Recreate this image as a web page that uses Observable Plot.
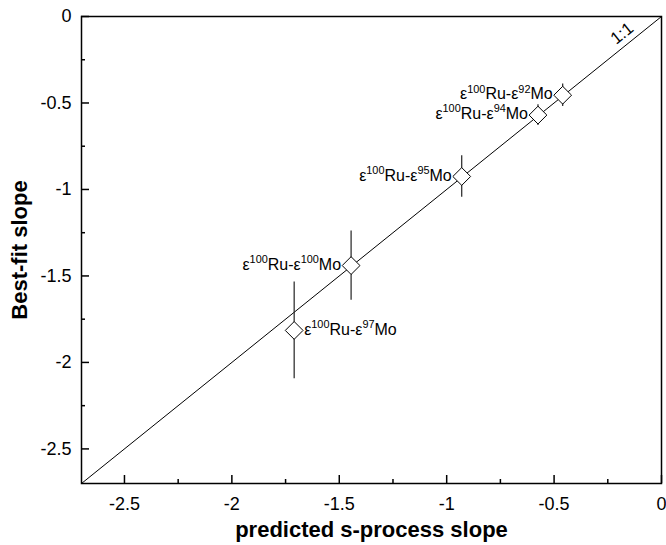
<!DOCTYPE html>
<html>
<head>
<meta charset="utf-8">
<script src="https://cdn.jsdelivr.net/npm/d3@7"></script>
<script src="https://cdn.jsdelivr.net/npm/@observablehq/plot@0.6"></script>
<style>
  html, body { margin: 0; padding: 0; background: white; }
</style>
</head>
<body>
<div id="chart"></div>
<script>
// ---- data ----
const isotope = ["92", "94", "95", "100", "97"];
const predictedSlope = [-0.46, -0.575, -0.93, -1.445, -1.71];
const bestFitSlope = [-0.455, -0.57, -0.925, -1.44, -1.815];
const bestFitError = [0.065, 0.06, 0.12, 0.2, 0.28];
const labelSide = ["left", "left", "left", "left", "right"];

const xMajorTicks = [-2.5, -2, -1.5, -1, -0.5, 0];
const xMinorTicks = [-2.25, -1.75, -1.25, -0.75, -0.25];
const yMajorTicks = [-2.5, -2, -1.5, -1, -0.5, 0];
const yMinorTicks = [-2.25, -1.75, -1.25, -0.75, -0.25];
const axisDomain = [-2.7, 0];
const oneToOneLine = [-2.7, 0];
const oneToOneLabel = [{x: -0.184, y: -0.098, text: "1:1"}];

const xTitle = "predicted s-process slope";
const yTitle = "Best-fit slope";

const points = isotope.map((m, i) => ({
  mass: m,
  x: predictedSlope[i],
  y: bestFitSlope[i],
  lo: bestFitSlope[i] - bestFitError[i],
  hi: bestFitSlope[i] + bestFitError[i],
  side: labelSide[i],
  label: "ε|100|Ru-ε|" + m + "|Mo"
}));

// render helper: turn "a|sup|b|sup|c" into tspans with superscripts
function superscriptRender(index, scales, values, dimensions, context, next) {
  const g = next(index, scales, values, dimensions, context);
  d3.select(g).selectAll("text").each(function () {
    const t = d3.select(this);
    const parts = t.text().split("|");
    t.text(null);
    parts.forEach((p, k) => {
      const ts = t.append("tspan").text(p);
      if (k % 2 === 1) {
        ts.attr("font-size", "0.68em").attr("dy", "-0.62em");
      } else if (k > 0) {
        ts.attr("dy", "0.42em");
      }
    });
  });
  return g;
}

const fmt = d => String(d);

const chart = Plot.plot({
  width: 666,
  height: 545,
  marginLeft: 81,
  marginRight: 5,
  marginTop: 16,
  marginBottom: 62,
  x: {domain: axisDomain},
  y: {domain: axisDomain},
  style: {
    fontFamily: "'Liberation Sans', Arial, Helvetica, sans-serif",
    fontSize: "18px",
    color: "black",
    background: "white",
    overflow: "visible"
  },
  marks: [
    Plot.line(oneToOneLine, {x: d => d, y: d => d, stroke: "black", strokeWidth: 1}),
    Plot.ruleX(points, {x: "x", y1: "lo", y2: "hi", stroke: "#222", strokeWidth: 1.2}),
    Plot.dot(points, {x: "x", y: "y", symbol: "diamond2", r: 8, fill: "white", stroke: "black", strokeWidth: 1}),
    Plot.text(points.filter(d => d.side === "left"), {
      x: "x", y: "y", text: "label", textAnchor: "end", dx: -10, dy: -1,
      fontSize: 16, fill: "black", render: superscriptRender
    }),
    Plot.text(points.filter(d => d.side === "right"), {
      x: "x", y: "y", text: "label", textAnchor: "start", dx: 10, dy: -1,
      fontSize: 16, fill: "black", render: superscriptRender
    }),
    Plot.text(oneToOneLabel, {x: "x", y: "y", text: "text", rotate: -38.8, fontSize: 17, fill: "black"}),
    // axes: ticks inward
    Plot.axisX(xMajorTicks, {tickSize: -8, text: null, label: null, strokeWidth: 1.5}),
    Plot.axisX(xMinorTicks, {tickSize: -4, text: null, label: null, strokeWidth: 1.5}),
    Plot.axisY(yMajorTicks, {tickSize: -8, text: null, label: null, strokeWidth: 1.5}),
    Plot.axisY(yMinorTicks, {tickSize: -4, text: null, label: null, strokeWidth: 1.5}),
    Plot.axisX(xMajorTicks, {tickSize: 0, tickPadding: 14, tickFormat: fmt, label: null, fontSize: 18}),
    Plot.axisY(yMajorTicks, {tickSize: 0, tickPadding: 10, tickFormat: fmt, label: null, fontSize: 18}),
    Plot.frame({stroke: "black", strokeWidth: 1.5}),
    Plot.text([xTitle], {frameAnchor: "bottom", lineAnchor: "middle", dy: 46, fontWeight: "bold", fontSize: 22, fill: "black"}),
    Plot.text([yTitle], {frameAnchor: "left", textAnchor: "middle", lineAnchor: "middle", dx: -62, rotate: -90, fontWeight: "bold", fontSize: 22, fill: "black"})
  ]
});

document.getElementById("chart").appendChild(chart);
</script>
</body>
</html>
